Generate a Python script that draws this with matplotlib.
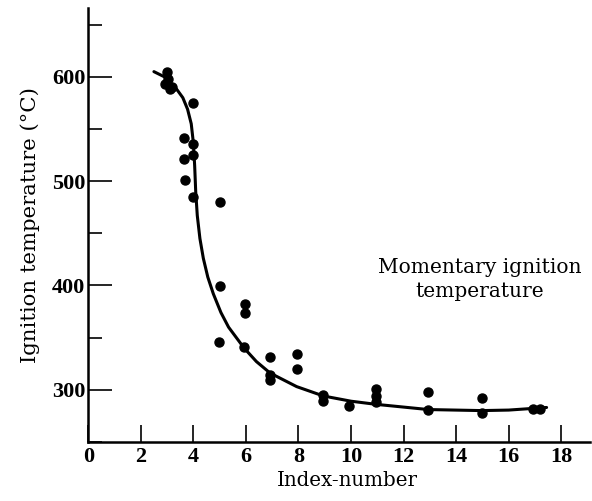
import numpy as np
import matplotlib.pyplot as plt
from matplotlib.ticker import MultipleLocator

# Datos: indice vs temperatura de ignicion
idx = [2.93, 3.0, 3.05, 3.1, 3.2,
       4.0, 3.66, 4.0, 3.66, 4.0, 3.69, 4.0, 5.0,
       5.0, 5.97, 5.97, 4.97, 5.93,
       6.92, 6.9, 6.92, 7.95, 7.95,
       8.95, 8.95, 9.94,
       10.95, 10.95, 10.95,
       12.94, 12.94, 14.97, 14.97, 16.93, 17.19]
temp = [593, 605, 598, 588, 590,
        575, 541, 536, 521, 525, 501, 485, 480,
        399, 382, 374, 346, 341,
        331, 314, 309, 334, 320,
        295, 289, 284,
        301, 294, 288,
        298, 281, 292, 278, 282, 282]

# Curva trazada a mano en el original
curve_x = [2.5, 2.9, 3.37, 3.6, 3.78, 3.92, 4.0, 4.05, 4.09, 4.15, 4.25,
           4.38, 4.55, 4.76, 5.05, 5.34, 5.93, 6.4, 6.92, 7.93, 8.95,
           10.0, 10.95, 12.94, 14.97, 16.0, 17.44]
curve_y = [605, 600, 588, 580, 569, 555, 537, 515, 490, 467, 445,
           426, 408, 392, 374, 360, 340, 327, 316, 303, 294,
           289, 286, 281, 280, 280.5, 283]

plt.rcParams['font.family'] = ['DejaVu Serif']

fig = plt.figure(figsize=(5.92, 5.01), dpi=100)
ax = fig.add_axes([0.149, 0.118, 0.848, 0.866])

ax.plot(curve_x, curve_y, color='black', lw=2.2, solid_capstyle='round',
        solid_joinstyle='round')
ax.plot(idx, temp, 'o', color='black', ms=6.5)

ax.set_xlim(0, 19.1)
ax.set_ylim(250, 666)
ax.xaxis.set_major_locator(MultipleLocator(2))
ax.yaxis.set_minor_locator(MultipleLocator(50))
ax.set_yticks([300, 400, 500, 600])
ax.tick_params(axis='x', direction='in', length=12, width=1.2, pad=4)
ax.tick_params(axis='y', which='major', direction='in', length=17, width=1.2, pad=2)
ax.tick_params(axis='y', which='minor', direction='in', length=10, width=1.2)
for lab in ax.get_xticklabels() + ax.get_yticklabels():
    lab.set_fontfamily('Liberation Serif')
    lab.set_fontweight('bold')
    lab.set_fontsize(16)

for s in ['top', 'right']:
    ax.spines[s].set_visible(False)
for s in ['left', 'bottom']:
    ax.spines[s].set_linewidth(1.8)

ax.set_xlabel('Index-number', fontsize=14.3)
ax.xaxis.set_label_coords(0.5154, -0.068, transform=ax.transAxes)
ax.xaxis.label.set_va('top')
ax.set_ylabel('Ignition temperature (°C)', fontsize=15.3, labelpad=9)

ax.text(14.9, 406, 'Momentary ignition\ntemperature', fontsize=14.5,
        ha='center', va='center', linespacing=1.35)

fig.savefig('out.png', dpi=100)
